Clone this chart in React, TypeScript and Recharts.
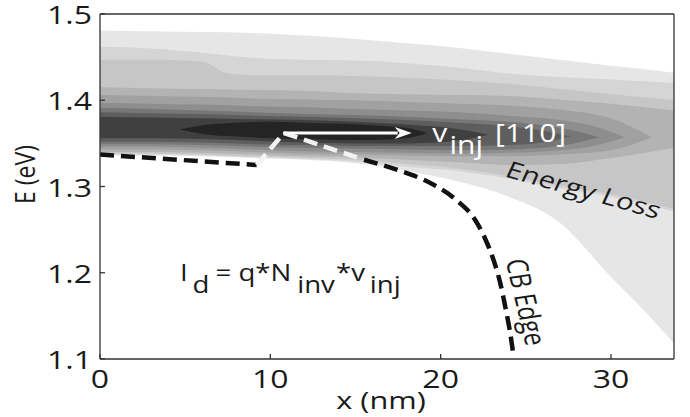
import React from 'react';
import { ComposedChart, Area, Line, XAxis, YAxis, ReferenceLine, ReferenceDot } from 'recharts';

const xTicks = [0, 10, 20, 30];
const eTicks = [1.1, 1.2, 1.3, 1.4, 1.5];

// filled contour levels, outermost first. rows are [x (nm), lower E, upper E]
const level1 = [[0, 1.336, 1.481], [3, 1.336, 1.48], [6, 1.335, 1.479], [9, 1.333, 1.478], [12, 1.331, 1.475], [15, 1.327, 1.471], [18, 1.318, 1.466], [21, 1.306, 1.461], [24, 1.288, 1.454], [27, 1.258, 1.447], [30, 1.195, 1.44], [32, 1.155, 1.436], [33.7, 1.118, 1.432]];
const level2 = [[0, 1.337, 1.462], [3, 1.337, 1.46], [6, 1.336, 1.455], [9, 1.334, 1.449], [12, 1.332, 1.447], [15, 1.329, 1.446], [18, 1.323, 1.443], [21, 1.318, 1.438], [24, 1.309, 1.431], [27, 1.298, 1.427], [30, 1.288, 1.424], [33.7, 1.271, 1.42]];
const level3 = [[0, 1.338, 1.447], [3, 1.338, 1.447], [6, 1.337, 1.445], [7.5, 1.336, 1.431], [9, 1.335, 1.429], [12, 1.333, 1.429], [15, 1.331, 1.428], [18, 1.326, 1.426], [21, 1.321, 1.423], [24, 1.312, 1.419], [27, 1.301, 1.413], [30, 1.291, 1.407], [33.7, 1.274, 1.4]];
const level4 = [[0, 1.34, 1.415], [3, 1.34, 1.414], [6, 1.339, 1.413], [9, 1.337, 1.412], [12, 1.335, 1.411], [15, 1.334, 1.408], [18, 1.331, 1.407], [21, 1.328, 1.406], [24, 1.325, 1.405], [27, 1.326, 1.401], [30, 1.333, 1.396], [33.7, 1.345, 1.388]];
const level5 = [[0, 1.343, 1.406], [3, 1.343, 1.405], [6, 1.342, 1.404], [9, 1.34, 1.402], [12, 1.338, 1.401], [15, 1.337, 1.4], [18, 1.336, 1.398], [21, 1.335, 1.396], [24, 1.335, 1.394], [27, 1.337, 1.389], [30, 1.342, 1.379], [32.4, 1.357, 1.357]];
const level6 = [[0, 1.346, 1.397], [3, 1.346, 1.396], [6, 1.345, 1.395], [9, 1.343, 1.393], [12, 1.341, 1.392], [15, 1.34, 1.39], [18, 1.339, 1.388], [21, 1.338, 1.386], [24, 1.339, 1.382], [27, 1.342, 1.377], [29, 1.347, 1.37], [30.8, 1.357, 1.357]];
const level7 = [[0, 1.349, 1.391], [3, 1.349, 1.39], [6, 1.348, 1.388], [9, 1.346, 1.386], [12, 1.345, 1.384], [15, 1.344, 1.383], [18, 1.343, 1.381], [21, 1.342, 1.378], [24, 1.343, 1.375], [27, 1.347, 1.368], [29.3, 1.357, 1.357]];
const level8 = [[0, 1.352, 1.386], [3, 1.352, 1.385], [6, 1.351, 1.384], [9, 1.349, 1.382], [12, 1.348, 1.381], [15, 1.347, 1.379], [18, 1.347, 1.377], [21, 1.347, 1.374], [24, 1.348, 1.37], [26, 1.351, 1.365], [27.6, 1.358, 1.358]];
const level9 = [[0, 1.356, 1.381], [3, 1.356, 1.38], [6, 1.355, 1.379], [9, 1.353, 1.378], [12, 1.351, 1.377], [15, 1.35, 1.375], [18, 1.35, 1.372], [20.5, 1.352, 1.368], [22.8, 1.36, 1.36]];
const level10 = [[4.7, 1.366, 1.366], [6, 1.361, 1.371], [8, 1.358, 1.374], [10, 1.356, 1.375], [12, 1.355, 1.374], [14, 1.354, 1.373], [16, 1.354, 1.371], [18, 1.356, 1.368], [19.2, 1.362, 1.362]];

const levels = [level1, level2, level3, level4, level5, level6, level7, level8, level9, level10];
const levelColors = ['#e6e6e6', '#d5d5d5', '#c6c6c6', '#b3b3b3', '#a1a1a1', '#8e8e8e', '#777777', '#5e5e5e', '#404040', '#242424'];

// conduction band edge [x, E]; the middle piece is drawn white over the dark core
const cbEdgeLeft = [[0, 1.337], [9.2, 1.325]];
const cbEdgeMid = [[9.2, 1.325], [10.8, 1.362], [15.5, 1.331]];
const cbEdgeRight = [[15.5, 1.331], [17.5, 1.319], [19.5, 1.303], [21, 1.283], [22, 1.262], [22.6, 1.24], [23.1, 1.215], [23.5, 1.188], [23.8, 1.16], [24.05, 1.134], [24.25, 1.108]];

// v_inj arrow: x start, x end, E
const vinjArrow = [10.75, 18.3, 1.362];

// text anchors [x, E]
const formulaAt = [4.7, 1.19];
const vinjAt = [19.5, 1.352];
const lossAt = [28.4, 1.296];
const cbLabelAt = [25.0, 1.166];

const levelRows = levels.map((lv) => lv.map(([x, lo, hi]) => ({ x, v: [lo, hi] })));
const toRows = (pts: number[][]) => pts.map(([x, e]) => ({ x, e }));

const FONT = '"Open Sans", "DejaVu Sans", sans-serif';
const SX = 1.28;
const AXIS = '#333';

const Stretch = ({ x, y, angle = 0, anchor = 'start', size = 25, fill = '#1a1a1a', dy, children }: any) => (
  <text
    transform={`translate(${x},${y}) scale(${SX},1) rotate(${angle})`}
    textAnchor={anchor}
    fontFamily={FONT}
    fontSize={size}
    fill={fill}
    dy={dy}
  >
    {children}
  </text>
);

const YTick = ({ x, y, payload }: any) => (
  <Stretch x={x} y={y + 1} anchor="end" dy="0.36em">
    {Number(payload.value).toFixed(1)}
  </Stretch>
);

const XTick = ({ x, y, payload }: any) => (
  <Stretch x={x} y={y} anchor="middle">
    {payload.value}
  </Stretch>
);

const XLabel = ({ viewBox }: any) => (
  <Stretch x={viewBox.x + viewBox.width / 2 - 6} y={viewBox.y + viewBox.height - 8} anchor="middle" size={24}>
    x (nm)
  </Stretch>
);

const YLabel = ({ viewBox }: any) => (
  <text
    transform={`translate(${viewBox.x + 25},${viewBox.y + viewBox.height / 2 - 12}) rotate(-90) scale(1,1.2)`}
    textAnchor="middle"
    dy="0.35em"
    fontFamily={FONT}
    fontSize={23}
    fill="#1a1a1a"
  >
    E (eV)
  </text>
);

const sub = 12;

const Formula = ({ cx, cy }: any) => (
  <text transform={`translate(${cx},${cy}) scale(1.2,1)`} fontFamily={FONT} fontSize={23} fill="#1a1a1a">
    <tspan>I</tspan>
    <tspan dx={4} dy={sub}>d</tspan>
    <tspan dx={5} dy={-sub}>= q*N</tspan>
    <tspan dx={5} dy={sub}>inv</tspan>
    <tspan dx={1} dy={-sub}>*v</tspan>
    <tspan dx={4} dy={sub}>inj</tspan>
  </text>
);

const VinjText = ({ cx, cy }: any) => (
  <text transform={`translate(${cx},${cy}) scale(1.2,1)`} fontFamily={FONT} fontSize={25} fill="#ffffff">
    <tspan>v</tspan>
    <tspan dx={2} dy={sub}>inj</tspan>
    <tspan dx={10} dy={-sub}>[110]</tspan>
  </text>
);

const LossText = ({ cx, cy }: any) => (
  <Stretch x={cx} y={cy} angle={19.7} anchor="middle" size={23} dy="0.35em">
    Energy Loss
  </Stretch>
);

const CbText = ({ cx, cy }: any) => (
  <Stretch x={cx} y={cy} angle={79.4} anchor="middle" size={23} dy="0.35em">
    CB Edge
  </Stretch>
);

const ArrowShape = ({ x1, y1, x2, y2 }: any) => {
  const head = 17;
  const half = 6;
  return (
    <g>
      <line x1={x1} y1={y1} x2={x2 - head + 3} y2={y2} stroke="#ffffff" strokeWidth={3} />
      <path
        d={`M${x2},${y2} L${x2 - head},${y2 - half} L${x2 - head + 5},${y2} L${x2 - head},${y2 + half} Z`}
        fill="#ffffff"
      />
    </g>
  );
};

export default function App() {
  return (
    <div style={{ position: 'absolute', left: 0, top: 0, width: 690, height: 417, background: '#fff' }}>
      <ComposedChart width={690} height={417} margin={{ top: 13, right: 15, bottom: 0, left: 0 }}>
        {levelRows.map((rows, i) => (
          <Area
            key={i}
            data={rows}
            dataKey="v"
            type="monotone"
            stroke="none"
            fill={levelColors[i]}
            fillOpacity={1}
            dot={false}
            activeDot={false}
            isAnimationActive={false}
          />
        ))}
        <Line data={toRows(cbEdgeLeft)} dataKey="e" type="linear" stroke="#111" strokeWidth={4.5} strokeDasharray="14 7" dot={false} activeDot={false} isAnimationActive={false} />
        <Line data={toRows(cbEdgeMid)} dataKey="e" type="linear" stroke="#f2f2f2" strokeWidth={4.5} strokeDasharray="14 7" dot={false} activeDot={false} isAnimationActive={false} />
        <Line data={toRows(cbEdgeRight)} dataKey="e" type="monotone" stroke="#111" strokeWidth={4.5} strokeDasharray="14 7" dot={false} activeDot={false} isAnimationActive={false} />
        <ReferenceLine
          segment={[{ x: vinjArrow[0], y: vinjArrow[2] }, { x: vinjArrow[1], y: vinjArrow[2] }]}
          shape={ArrowShape}
        />
        <ReferenceDot x={formulaAt[0]} y={formulaAt[1]} r={0} shape={Formula} />
        <ReferenceDot x={vinjAt[0]} y={vinjAt[1]} r={0} shape={VinjText} />
        <ReferenceDot x={lossAt[0]} y={lossAt[1]} r={0} shape={LossText} />
        <ReferenceDot x={cbLabelAt[0]} y={cbLabelAt[1]} r={0} shape={CbText} />
        <XAxis
          dataKey="x"
          type="number"
          domain={[0, 33.7]}
          allowDataOverflow
          ticks={xTicks}
          height={58}
          tickSize={-5}
          tickMargin={34}
          tick={XTick}
          axisLine={{ stroke: AXIS, strokeWidth: 1.3 }}
          tickLine={{ stroke: AXIS, strokeWidth: 1.3 }}
          label={XLabel}
        />
        <XAxis
          xAxisId="top"
          orientation="top"
          dataKey="x"
          type="number"
          domain={[0, 33.7]}
          allowDataOverflow
          ticks={xTicks}
          height={1}
          tickSize={-5}
          tick={false}
          axisLine={{ stroke: AXIS, strokeWidth: 1.3 }}
          tickLine={{ stroke: AXIS, strokeWidth: 1.3 }}
        />
        <YAxis
          type="number"
          domain={[1.1, 1.5]}
          allowDataOverflow
          ticks={eTicks}
          width={100}
          tickSize={-5}
          tickMargin={13}
          tick={YTick}
          axisLine={{ stroke: AXIS, strokeWidth: 1.3 }}
          tickLine={{ stroke: AXIS, strokeWidth: 1.3 }}
          label={YLabel}
        />
        <YAxis
          yAxisId="right"
          orientation="right"
          type="number"
          domain={[1.1, 1.5]}
          allowDataOverflow
          ticks={eTicks}
          width={1}
          tickSize={-5}
          tick={false}
          axisLine={{ stroke: AXIS, strokeWidth: 1.3 }}
          tickLine={{ stroke: AXIS, strokeWidth: 1.3 }}
        />
      </ComposedChart>
    </div>
  );
}
